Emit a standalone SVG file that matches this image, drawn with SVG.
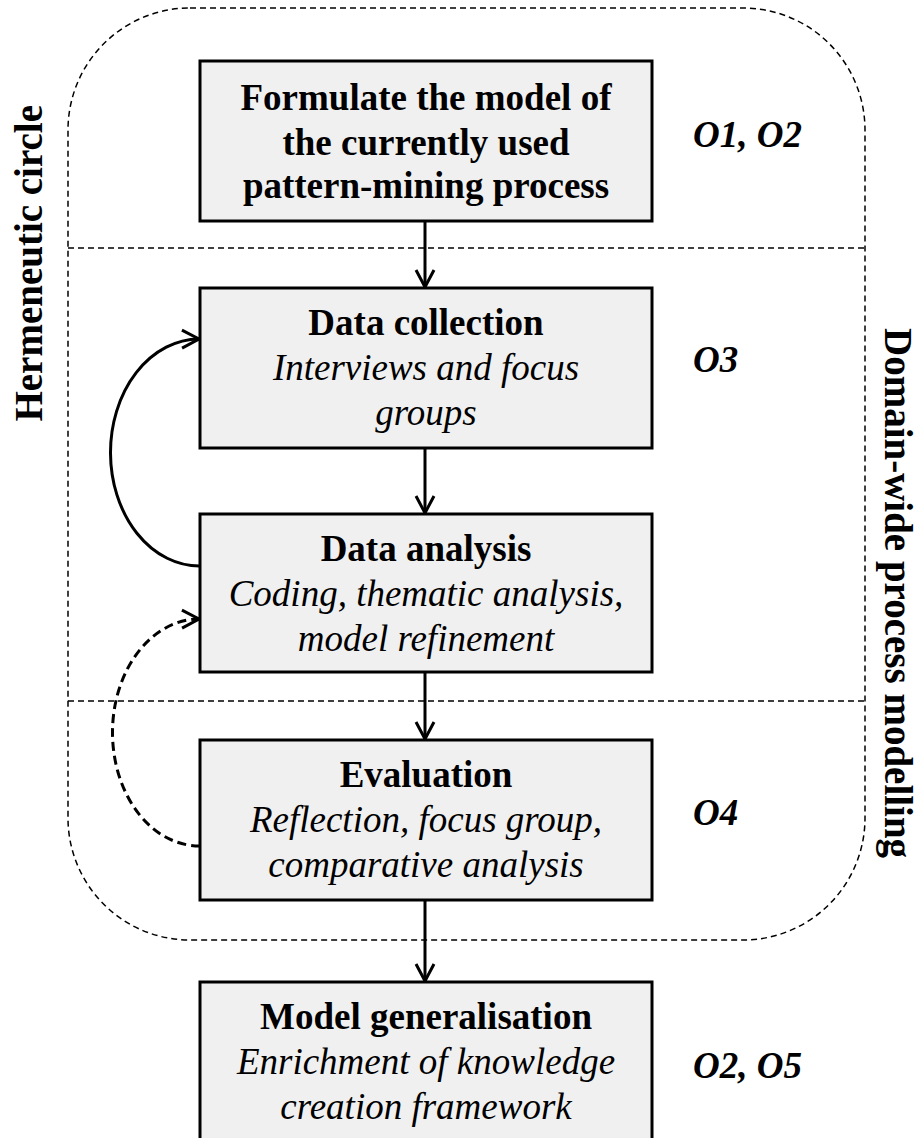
<svg xmlns="http://www.w3.org/2000/svg" width="919" height="1138" viewBox="0 0 919 1138">
<style>
.t{font-family:"Liberation Serif","Times New Roman",serif;font-size:37px;text-anchor:middle;fill:#000}
.b{font-weight:bold}
.i{font-style:italic}
.o{font-family:"Liberation Serif","Times New Roman",serif;font-size:37px;font-weight:bold;font-style:italic;fill:#000}
.v{font-family:"Liberation Serif","Times New Roman",serif;font-size:39px;font-weight:bold;fill:#000}
.box{fill:#f0f0f0;stroke:#000;stroke-width:3}
.frame{fill:none;stroke:#000;stroke-width:1.5;stroke-dasharray:6 4}
.conn{fill:none;stroke:#000;stroke-width:3}
.dash{stroke-dasharray:9 5}
</style>
<defs>
<marker id="arr" markerUnits="userSpaceOnUse" markerWidth="30" markerHeight="30" viewBox="-22 -15 30 30" refX="0" refY="0" orient="auto">
<path d="M-17,-9 L0,0 L-17,9" fill="none" stroke="#000" stroke-width="3" stroke-linejoin="miter"/>
</marker>
</defs>
<g id="frame">
<rect class="frame" x="68" y="8" width="797" height="932" rx="122" ry="122"/>
<line class="frame" x1="68" y1="248" x2="865" y2="248"/>
<line class="frame" x1="68" y1="701" x2="865" y2="701"/>
</g>
<g id="labels">
<text class="v" transform="translate(42,105) rotate(-90)" text-anchor="end">Hermeneutic circle</text>
<text class="v" transform="translate(885,328) rotate(90)">Domain-wide process modelling</text>
<text class="o" x="693" y="147">O1, O2</text>
<text class="o" x="693" y="372">O3</text>
<text class="o" x="693" y="825">O4</text>
<text class="o" x="693" y="1078">O2, O5</text>
</g>
<g id="connectors">
<line class="conn" x1="425" y1="221" x2="425" y2="287" marker-end="url(#arr)"/>
<line class="conn" x1="425" y1="448" x2="425" y2="513" marker-end="url(#arr)"/>
<line class="conn" x1="425" y1="672" x2="425" y2="739" marker-end="url(#arr)"/>
<line class="conn" x1="425" y1="900" x2="425" y2="981" marker-end="url(#arr)"/>
<path class="conn" d="M200,566 A89,113.5 0 0 1 199,339" marker-end="url(#arr)"/>
<path class="conn dash" d="M200,846 A87,113.5 0 0 1 199,619" marker-end="url(#arr)"/>
</g>
<g id="node-formulate">
<rect class="box" x="200" y="61" width="452" height="160"/>
<text class="t b" x="426" y="110">Formulate the model of</text>
<text class="t b" x="426" y="155">the currently used</text>
<text class="t b" x="426" y="198">pattern-mining process</text>
</g>
<g id="node-collection">
<rect class="box" x="200" y="288" width="452" height="160"/>
<text class="t b" x="426" y="335">Data collection</text>
<text class="t i" x="426" y="380">Interviews and focus</text>
<text class="t i" x="426" y="425">groups</text>
</g>
<g id="node-analysis">
<rect class="box" x="200" y="514" width="452" height="158"/>
<text class="t b" x="426" y="561">Data analysis</text>
<text class="t i" x="426" y="606">Coding, thematic analysis,</text>
<text class="t i" x="426" y="651">model refinement</text>
</g>
<g id="node-evaluation">
<rect class="box" x="200" y="740" width="452" height="160"/>
<text class="t b" x="426" y="787">Evaluation</text>
<text class="t i" x="426" y="832">Reflection, focus group,</text>
<text class="t i" x="426" y="877">comparative analysis</text>
</g>
<g id="node-generalisation">
<rect class="box" x="200" y="982" width="452" height="170"/>
<text class="t b" x="426" y="1029">Model generalisation</text>
<text class="t i" x="426" y="1074">Enrichment of knowledge</text>
<text class="t i" x="426" y="1119">creation framework</text>
</g>
</svg>
